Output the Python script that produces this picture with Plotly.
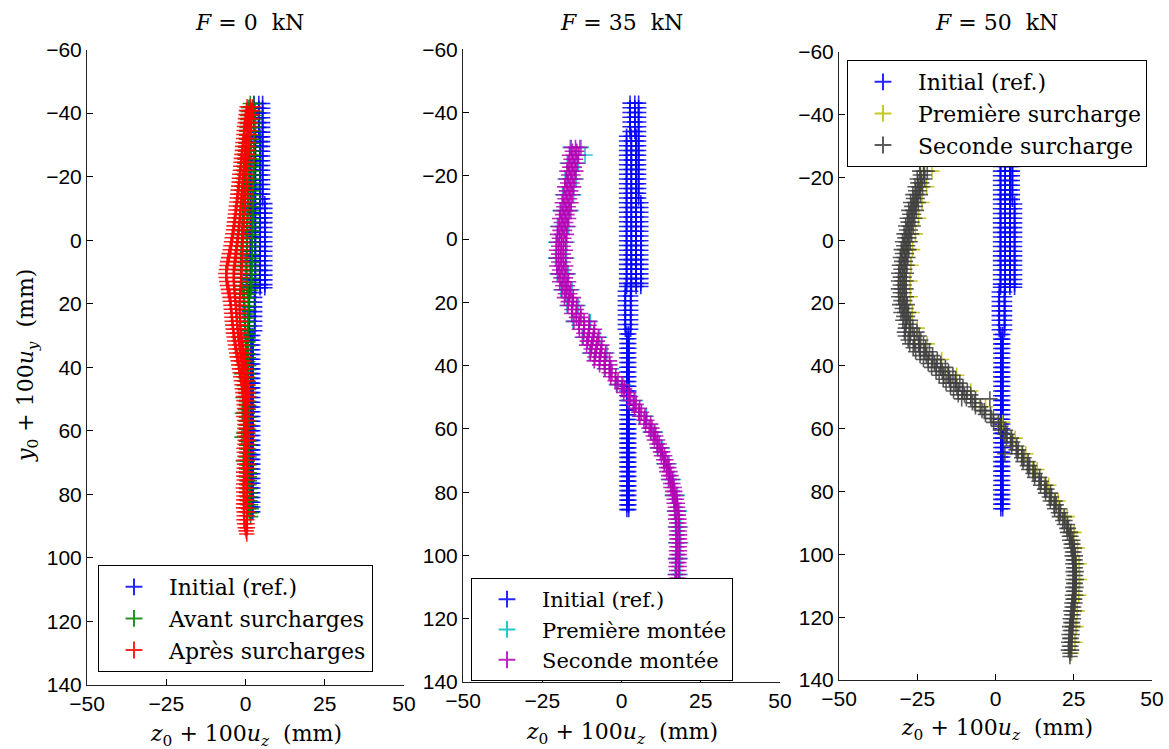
import plotly.graph_objects as go

# ---------------- data ----------------
# Initial (reference) measurement grid, shared by the three panels
init_top_y = [-43.0, -41.5, -40.0, -38.5, -37.0, -35.5, -34.0]
init_top_z = [2.7, 4.2, 5.4]
init_upa_y = [-32.5, -31.0, -29.5, -28.0, -26.5, -25.0, -23.5, -22.0, -20.5, -19.0,
              -17.5, -16.0, -14.5, -13.0]
init_upa_z = [1.6, 3.1, 4.6, 5.4]
init_upb_y = [-11.5, -10.0, -8.5, -7.0, -5.5, -4.0, -2.5, -1.0, 0.5, 2.0, 3.5, 5.0,
              6.5, 8.0, 9.5, 11.0, 12.5, 14.0, 15.0]
init_upb_z = [1.6, 3.1, 4.6, 6.1]
init_mid_y = [16.5, 18.0, 19.5, 21.0, 22.5, 24.0, 25.5, 27.0, 28.5]
init_mid_z = [1.2, 2.9]
init_low_y = [30.0, 31.5, 33.0, 34.5, 36.0, 37.5, 39.0, 40.5, 42.0, 43.5, 45.0, 46.5,
              48.0, 49.5, 51.0, 52.5, 54.0, 55.5, 57.0, 58.5, 60.0, 61.5, 63.0, 64.5,
              66.0, 67.5, 69.0, 70.5, 72.0, 73.5, 75.0, 76.5, 78.0, 79.5, 81.0, 82.5,
              84.0, 85.5]
init_low_z = [1.7, 2.3]

# Panel 1 : F = 0 kN  -- "Avant surcharges"
avant_y = [-43, -40.5, -38, -35.5, -33, -30.5, -28, -25.5, -23, -20.5, -18, -15.5, -13,
           -10.5, -8, -5.5, -3, -0.5, 2, 4.5, 7, 9.5, 12, 14.5, 17, 19.5, 22, 24.5, 27,
           29.5, 32, 34.5, 37, 39.5, 42, 44.5, 47, 49.5, 52, 54.5, 57, 59.5, 62, 64.5,
           67, 69.5, 72, 74.5, 77, 79.5, 82, 84.5, 87]
avant_z = [[1.5, 2.6], [0.8, 1.9, 3.0], [0.7, 1.8, 2.9], [0.5, 1.7, 2.8], [0.4, 1.6, 2.8],
           [0.2, 1.5, 2.7], [0.1, 1.4, 2.7], [-0.1, 1.3, 2.6], [-0.2, 1.2, 2.6],
           [-0.3, 1.1, 2.5], [-0.4, 1.0, 2.5], [-0.5, 0.9, 2.4], [-0.6, 0.8, 2.4],
           [-0.7, 0.8, 2.3], [-0.8, 0.7, 2.3], [-0.9, 0.6, 2.2], [-1.0, 0.5, 2.2],
           [-1.1, 0.5, 2.1], [-1.2, 0.4, 2.1], [-1.3, 0.4, 2.0], [-1.4, 0.3, 2.0],
           [-1.4, 0.3, 1.9], [-1.3, 0.3, 1.9], [-1.1, 0.4, 1.9], [-0.6, 0.9], [-0.4, 1.0],
           [-0.3, 1.0], [-0.3, 0.9], [-0.2, 0.9], [0.0, 0.8], [0.1, 0.8], [-0.9, 0.5],
           [0.2, 0.9], [0.1, 1.0], [-1.2, 0.6], [0.2, 0.9], [0.0, 1.0], [-0.8, 0.5],
           [0.3, 1.0], [-1.0, 0.6], [0.2, 1.1], [0.3, 1.0], [-1.1, 0.5], [0.3, 1.1],
           [0.4, 1.0], [-0.7, 0.6], [0.4, 1.1], [0.3, 1.2], [0.5, 1.1], [0.4, 1.3],
           [0.6, 1.4], [1.0, 1.8], [1.6]]
avant_y_b = [-41.75, -39.25, -36.75, -34.25, -31.75, -29.25, -26.75, -24.25, -21.75,
             -19.25, -16.75, -14.25, -11.75, -9.25, -6.75, -4.25, -1.75, 0.75, 3.25, 5.75,
             8.25, 10.75, 13.25, 15.75, 18.25, 20.75, 23.25, 25.75, 28.25, 30.75, 33.25,
             35.75, 38.25, 40.75, 43.25, 45.75, 48.25, 50.75, 53.25, 55.75, 58.25, 60.75,
             63.25, 65.75, 68.25, 70.75, 73.25, 75.75, 78.25, 80.75, 83.25, 85.75]
avant_z_b = [[1.0, 2.2], [0.7, 1.8, 2.9], [0.6, 1.7, 2.8], [0.4, 1.6, 2.8], [0.3, 1.5, 2.7],
             [0.1, 1.4, 2.7], [0.0, 1.3, 2.6], [-0.2, 1.2, 2.6], [-0.3, 1.1, 2.5],
             [-0.4, 1.0, 2.5], [-0.5, 0.9, 2.4], [-0.6, 0.8, 2.4], [-0.7, 0.8, 2.3],
             [-0.8, 0.7, 2.3], [-0.9, 0.6, 2.2], [-1.0, 0.5, 2.2], [-1.1, 0.5, 2.1],
             [-1.2, 0.4, 2.1], [-1.3, 0.4, 2.0], [-1.4, 0.3, 2.0], [-1.4, 0.3, 1.9],
             [-1.4, 0.3, 1.9], [-1.2, 0.4, 1.9], [-0.9, 0.6, 1.6], [-0.5, 0.9], [-0.3, 1.0],
             [-0.3, 0.9], [-0.2, 0.9], [-0.1, 0.8], [0.0, 0.8], [0.2, 0.9], [0.1, 0.9],
             [-0.6, 0.7], [0.2, 1.0], [0.1, 0.9], [-0.4, 0.8], [0.2, 1.0], [0.3, 1.0],
             [0.0, 0.9], [0.3, 1.1], [0.2, 1.0], [-0.5, 0.8], [0.3, 1.1], [0.4, 1.0],
             [0.2, 1.1], [0.4, 1.1], [0.4, 1.2], [0.5, 1.2], [0.5, 1.3], [0.6, 1.4],
             [0.8, 1.6], [1.2, 1.8]]

# Panel 1 : "Après surcharges"
apres_y = [-42, -39.5, -37, -34.5, -32, -29.5, -27, -24.5, -22, -19.5, -17, -14.5, -12,
           -9.5, -7, -4.5, -2, 0.5, 3, 5.5, 8, 10.5, 13, 15.5, 18, 20.5, 23, 25.5, 28,
           30.5, 33, 35.5, 38, 40.5, 43, 45.5, 48, 50.5, 53, 55.5, 58, 60.5, 63, 65.5,
           68, 70.5, 73, 75.5, 78, 80.5, 83, 85.5, 88, 90.5, 92.5]
apres_z = [[0.5, 1.5, 2.4], [0.2, 1.1, 2.0], [-0.1, 0.7, 1.6], [-0.4, 0.5, 1.3],
           [-0.6, 0.3, 1.1], [-0.9, 0.0, 0.9], [-1.1, -0.2, 0.6], [-1.4, -0.4, 0.5],
           [-1.6, -0.6, 0.4], [-1.9, -0.8, 0.3], [-2.1, -1.0, 0.1], [-2.4, -1.2, 0.0],
           [-2.7, -1.4, -0.2], [-3.0, -1.6, -0.3], [-3.3, -1.8, -0.5], [-3.6, -2.0, -0.6],
           [-4.0, -2.3, -0.8], [-4.4, -2.6, -0.9], [-4.8, -2.9, -1.0], [-5.3, -3.2, -1.1],
           [-5.8, -3.5, -1.2], [-6.2, -3.8, -1.3], [-5.9, -3.7, -1.5], [-5.4, -3.5, -1.6],
           [-4.9, -3.3, -1.8], [-4.6, -3.1, -1.9], [-4.4, -2.9, -1.8], [-4.2, -2.7, -1.7],
           [-3.9, -2.5, -1.6], [-3.6, -2.2, -1.3], [-3.2, -1.9, -1.0], [-2.8, -1.6, -0.6],
           [-2.3, -1.2, -0.3], [-1.9, -0.8, 0.1], [-1.5, -0.5, 0.4], [-1.1, -0.2, 0.7],
           [-0.8, 0.1, 0.9], [-0.5, 0.4], [-0.3, 0.6], [-0.6, 0.3], [-0.2, 0.6],
           [-0.4, 0.5], [-0.1, 0.7], [-0.5, 0.4], [-0.2, 0.5], [-0.3, 0.6], [-0.6, 0.3],
           [-0.4, 0.5], [-0.7, 0.2], [-0.5, 0.4], [-0.6, 0.3], [-0.4, 0.5], [-0.5, 0.4],
           [-0.1, 0.6], [0.4]]
apres_y_b = [-40.75, -38.25, -35.75, -33.25, -30.75, -28.25, -25.75, -23.25, -20.75,
             -18.25, -15.75, -13.25, -10.75, -8.25, -5.75, -3.25, -0.75, 1.75, 4.25, 6.75,
             9.25, 11.75, 14.25, 16.75, 19.25, 21.75, 24.25, 26.75, 29.25, 31.75, 34.25,
             36.75, 39.25, 41.75, 44.25, 46.75, 49.25, 51.75, 54.25, 56.75, 59.25, 61.75,
             64.25, 66.75, 69.25, 71.75, 74.25, 76.75, 79.25, 81.75, 84.25, 86.75, 89.25,
             91.5]
apres_z_b = [[0.3, 1.3, 2.2], [0.0, 0.9, 1.8], [-0.3, 0.6, 1.4], [-0.5, 0.4, 1.2],
             [-0.8, 0.1, 1.0], [-1.0, -0.1, 0.8], [-1.3, -0.3, 0.6], [-1.5, -0.5, 0.4],
             [-1.8, -0.7, 0.3], [-2.0, -0.9, 0.2], [-2.3, -1.1, 0.1], [-2.6, -1.3, -0.1],
             [-2.9, -1.5, -0.2], [-3.2, -1.7, -0.4], [-3.5, -1.9, -0.5], [-3.8, -2.2, -0.7],
             [-4.2, -2.4, -0.8], [-4.6, -2.7, -0.9], [-5.1, -3.0, -1.0], [-5.6, -3.3, -1.1],
             [-6.0, -3.6, -1.2], [-6.1, -3.8, -1.4], [-5.7, -3.6, -1.5], [-5.2, -3.4, -1.7],
             [-4.8, -3.2, -1.8], [-4.5, -3.0, -1.9], [-4.3, -2.8, -1.7], [-4.0, -2.6, -1.6],
             [-3.8, -2.4, -1.5], [-3.4, -2.0, -1.1], [-3.0, -1.7, -0.8], [-2.6, -1.4, -0.4],
             [-2.1, -1.0, -0.1], [-1.7, -0.6, 0.3], [-1.3, -0.3, 0.6], [-1.0, 0.0, 0.8],
             [-0.6, 0.2, 1.0], [-0.4, 0.5], [-0.5, 0.4], [-0.3, 0.6], [-0.2, 0.5],
             [-0.3, 0.6], [-0.2, 0.5], [-0.4, 0.4], [-0.5, 0.5], [-0.4, 0.4], [-0.5, 0.3],
             [-0.6, 0.4], [-0.6, 0.3], [-0.5, 0.4], [-0.6, 0.4], [-0.4, 0.5], [-0.3, 0.5],
             [0.2]]

# Panel 2 : F = 35 kN -- "Première montée"
mont1_y = [-29, -26.6, -24, -19, -14, -9, -4, 1, 6, 11, 16, 21, 26, 31, 36, 41, 46, 51,
           56, 61, 66, 71, 76, 81, 86, 91, 96, 101, 106, 111, 116, 121, 126]
mont1_z = [[-16.2, -12.7], [-11.5], [-17.1, -13.6], [-17.8, -14.3], [-18.6, -15.1],
           [-19.4, -15.9], [-20.2, -16.7], [-20.7, -17.2], [-20.8, -17.3], [-20.3, -16.8],
           [-19.1, -15.6], [-17.2, -13.7], [-15.3, -9.8], [-12.4, -6.9], [-10.1, -4.6],
           [-5.4, -3.2], [-1.6, 0.6], [2.2, 4.4], [5.6, 7.8], [9.1, 10.7], [11.3, 12.9],
           [13.4, 15.0], [14.8, 16.4], [16.0, 17.6], [16.7, 18.3], [17.0, 18.6],
           [17.1, 18.7], [17.0, 18.6], [16.9, 18.5], [16.7, 18.3], [16.5, 18.1],
           [16.3, 17.9], [16.1, 17.7]]

# Panel 2 : "Seconde montée"
mont2_y = [-29, -26.5, -24, -21.5, -19, -16.5, -14, -11.5, -9, -6.5, -4, -1.5, 1, 3.5, 6,
           8.5, 11, 13.5, 16, 18.5, 21, 23.5, 26, 28.5, 31, 33.5, 36, 38.5, 41, 43.5, 46,
           48.5, 51, 53.5, 56, 58.5, 61, 63.5, 66, 68.5, 71, 73.5, 76, 78.5, 81, 83.5, 86,
           88.5, 91, 93.5, 96, 98.5, 101, 103.5, 106, 108.5, 111, 113.5, 116, 118.5, 121,
           123.5, 126, 128.5]
mont2_z = [[-15.9, -14.5, -13.1], [-16.4, -15.0, -13.6], [-16.8, -15.4, -14.0],
           [-17.2, -15.8, -14.4], [-17.5, -16.1, -14.7], [-17.9, -16.5, -15.1],
           [-18.3, -16.9, -15.5], [-18.7, -17.3, -15.9], [-19.1, -17.7, -16.3],
           [-19.5, -18.1, -16.7], [-19.9, -18.5, -17.1], [-20.2, -18.8, -17.4],
           [-20.4, -19.0, -17.6], [-20.5, -19.1, -17.7], [-20.5, -19.1, -17.7],
           [-20.4, -19.0, -17.6], [-20.0, -18.6, -17.2], [-19.5, -18.1, -16.7],
           [-18.8, -17.4, -16.0], [-18.0, -16.6, -15.2], [-16.9, -15.5, -14.1],
           [-15.7, -14.3, -12.9], [-15.0, -13.4, -11.8, -10.2], [-13.3, -11.7, -10.1, -8.5],
           [-12.1, -10.5, -8.9, -7.3], [-11.0, -9.4, -7.8, -6.2], [-9.8, -8.2, -6.6, -5.0],
           [-8.6, -7.0, -5.4, -3.8], [-5.2, -3.6], [-3.4, -1.8], [-1.4, 0.2], [0.7, 2.3],
           [2.4, 4.0], [4.1, 5.7], [5.8, 7.4], [7.6, 9.2], [9.3, 10.3], [10.4, 11.4],
           [11.5, 12.5], [12.6, 13.6], [13.6, 14.6], [14.3, 15.3], [15.0, 16.0],
           [15.6, 16.6], [16.2, 17.2], [16.6, 17.6], [16.9, 17.9], [17.1, 18.1],
           [17.2, 18.2], [17.3, 18.3], [17.3, 18.3], [17.3, 18.3], [17.2, 18.2],
           [17.2, 18.2], [17.1, 18.1], [17.0, 18.0], [16.9, 17.9], [16.8, 17.8],
           [16.7, 17.7], [16.6, 17.6], [16.5, 17.5], [16.4, 17.4], [16.3, 17.3],
           [16.3, 17.3]]
mont2_y_b = [-27.75, -25.25, -22.75, -20.25, -17.75, -15.25, -12.75, -10.25, -7.75, -5.25,
             -2.75, -0.25, 2.25, 4.75, 7.25, 9.75, 12.25, 14.75, 17.25, 19.75, 22.25,
             24.75, 27.25, 29.75, 32.25, 34.75, 37.25, 39.75, 42.25, 44.75, 47.25, 49.75,
             52.25, 54.75, 57.25, 59.75, 62.25, 64.75, 67.25, 69.75, 72.25, 74.75, 77.25,
             79.75, 82.25, 84.75, 87.25, 89.75, 92.25, 94.75, 97.25, 99.75, 102.25, 104.75,
             107.25, 109.75, 112.25, 114.75, 117.25, 119.75, 122.25, 124.75, 127.25]
mont2_z_b = [[-15.5, -14.1], [-15.9, -14.5], [-16.3, -14.9], [-16.7, -15.3], [-17.0, -15.6],
             [-17.4, -16.0], [-17.8, -16.4], [-18.2, -16.8], [-18.6, -17.2], [-19.0, -17.6],
             [-19.4, -18.0], [-19.6, -18.2], [-19.8, -18.4], [-19.8, -18.4], [-19.8, -18.4],
             [-19.5, -18.1], [-19.1, -17.7], [-18.5, -17.1], [-17.7, -16.3], [-16.8, -15.4],
             [-15.6, -14.2], [-14.2, -12.8], [-13.4, -11.8, -10.2], [-11.9, -10.3, -8.7],
             [-10.8, -9.2, -7.6], [-9.6, -8.0, -6.4], [-8.4, -6.8, -5.2], [-6.9, -5.3, -3.7],
             [-3.9, -3.0], [-2.0, -1.1], [0.1, 1.0], [2.0, 2.9], [3.7, 4.6], [5.4, 6.3],
             [7.1, 8.0], [8.7, 9.6], [10.0, 10.8], [11.2, 11.9], [12.3, 13.0], [13.3, 14.0],
             [14.2, 14.9], [14.9, 15.6], [15.5, 16.2], [16.1, 16.8], [16.6, 17.3],
             [17.0, 17.7], [17.2, 17.9], [17.4, 18.1], [17.5, 18.2], [17.5, 18.2],
             [17.5, 18.2], [17.5, 18.2], [17.4, 18.1], [17.4, 18.1], [17.3, 18.0],
             [17.2, 17.9], [17.1, 17.8], [17.0, 17.7], [16.9, 17.6], [16.8, 17.5],
             [16.7, 17.4], [16.6, 17.3], [16.5, 17.2]]

# Panel 3 : F = 50 kN -- "Première surcharge"
surc1_y = [-22, -17, -12, -7, -2, 3, 8, 13, 18, 23, 28, 33, 38, 43, 48, 53, 58, 63, 68,
           73, 78, 83, 88, 93, 98, 103, 108, 113, 118, 123, 128, 131.5]
surc1_z = [[-22.6, -20.3], [-24.0, -22.0], [-25.4, -23.5], [-26.5, -24.6], [-27.5, -25.6],
           [-28.4, -26.5], [-29.0, -27.0], [-29.3, -27.3], [-29.2, -27.2], [-28.5, -26.6],
           [-27.1, -25.0], [-24.7, -21.8], [-20.3, -17.2], [-15.3, -12.4], [-10.7, -7.9],
           [-5.1, -3.2], [0.7, 2.3], [4.8, 6.3], [8.3, 9.7], [11.9, 13.3], [15.7, 17.0],
           [18.8, 20.0], [21.7, 22.9], [24.0, 25.1], [25.2, 26.2], [25.7, 26.7],
           [25.8, 26.8], [25.6, 26.6], [25.1, 26.1], [24.7, 25.7], [24.4, 25.4], [24.3]]

# Panel 3 : "Seconde surcharge"
surc2_y = [-22, -19.5, -17, -14.5, -12, -9.5, -7, -4.5, -2, 0.5, 3, 5.5, 8, 10.5, 13,
           15.5, 18, 20.5, 23, 25.5, 28, 30.5, 33, 35.5, 38, 40.5, 43, 45.5, 48, 50.5, 53,
           55.5, 58, 60.5, 63, 65.5, 68, 70.5, 73, 75.5, 78, 80.5, 83, 85.5, 88, 90.5, 93,
           95.5, 98, 100.5, 103, 105.5, 108, 110.5, 113, 115.5, 118, 120.5, 123, 125.5,
           128, 130.5, 132.5]
surc2_z = [[-24.2, -23.0, -21.8], [-25.0, -23.8, -22.6], [-25.7, -24.5, -23.3],
           [-26.4, -25.2, -24.0], [-27.1, -25.9, -24.7], [-27.7, -26.5, -25.3],
           [-28.2, -27.0, -25.8], [-28.7, -27.5, -26.3], [-29.2, -28.0, -26.8],
           [-29.7, -28.5, -27.3], [-30.1, -28.9, -27.7], [-30.4, -29.2, -28.0],
           [-30.7, -29.5, -28.3], [-30.9, -29.7, -28.5], [-31.0, -29.8, -28.6],
           [-31.0, -29.8, -28.6], [-30.9, -29.7, -28.5], [-30.6, -29.4, -28.2],
           [-30.2, -29.0, -27.8], [-29.6, -28.4, -27.2], [-28.8, -27.6, -26.4],
           [-28.8, -27.3, -25.9, -24.4], [-27.4, -25.9, -24.5, -23.0],
           [-25.5, -24.0, -22.6, -21.1], [-23.0, -21.5, -20.1, -18.6],
           [-20.4, -18.9, -17.5, -16.0], [-18.0, -16.5, -15.1, -13.6],
           [-15.8, -14.3, -12.9, -11.4], [-13.4, -11.9, -10.5, -9.0],
           [-10.8, -9.3, -7.9, -6.4, -1.8], [-6.4, -4.8], [-3.2, -1.6], [-0.6, 1.0],
           [1.6, 3.2], [3.5, 5.1], [5.2, 6.8], [7.0, 8.6, 3.0], [8.8, 10.4], [10.6, 12.2],
           [12.5, 14.1], [14.4, 16.0], [16.0, 17.6], [17.5, 19.1], [18.9, 20.5],
           [20.4, 22.0], [22.0, 23.0], [23.0, 24.0], [23.7, 24.7], [24.2, 25.2],
           [24.5, 25.5], [24.7, 25.7], [24.8, 25.8], [24.8, 25.8], [24.7, 25.7],
           [24.6, 25.6], [24.4, 25.4], [24.1, 25.1], [23.9, 24.9], [23.7, 24.7],
           [23.5, 24.5], [23.4, 24.4], [23.3, 24.3], [23.8]]
surc2_y_b = [-20.75, -18.25, -15.75, -13.25, -10.75, -8.25, -5.75, -3.25, -0.75, 1.75,
             4.25, 6.75, 9.25, 11.75, 14.25, 16.75, 19.25, 21.75, 24.25, 26.75, 29.25,
             31.75, 34.25, 36.75, 39.25, 41.75, 44.25, 46.75, 49.25, 51.75, 54.25, 56.75,
             59.25, 61.75, 64.25, 66.75, 69.25, 71.75, 74.25, 76.75, 79.25, 81.75, 84.25,
             86.75, 89.25, 91.75, 94.25, 96.75, 99.25, 101.75, 104.25, 106.75, 109.25,
             111.75, 114.25, 116.75, 119.25, 121.75, 124.25, 126.75, 129.25, 131.5]
surc2_z_b = [[-24.0, -22.8], [-24.8, -23.6], [-25.5, -24.3], [-26.2, -25.0], [-26.8, -25.6],
             [-27.4, -26.2], [-27.9, -26.7], [-28.4, -27.2], [-28.9, -27.7], [-29.3, -28.1],
             [-29.7, -28.5], [-30.0, -28.8], [-30.2, -29.0], [-30.4, -29.2], [-30.4, -29.2],
             [-30.4, -29.2], [-30.2, -29.0], [-29.8, -28.6], [-29.3, -28.1], [-28.6, -27.4],
             [-29.1, -27.1, -25.1], [-27.9, -25.9, -23.9], [-26.3, -24.3, -22.3],
             [-24.1, -22.1, -20.1], [-21.5, -19.5, -17.5], [-19.0, -17.0, -15.0],
             [-16.7, -14.7, -12.7], [-14.4, -12.4, -10.4], [-11.9, -9.9, -7.9],
             [-7.4, -6.7], [-4.3, -3.6], [-1.4, -0.7], [1.0, 1.7], [3.0, 3.7], [4.8, 5.5],
             [6.6, 7.3], [8.4, 9.1], [10.2, 10.9], [12.0, 12.7], [13.9, 14.6], [15.7, 16.4],
             [17.2, 17.9], [18.7, 19.4], [20.1, 20.8], [21.5, 22.2], [22.8, 23.3],
             [23.6, 24.1], [24.2, 24.7], [24.6, 25.1], [24.9, 25.4], [25.0, 25.5],
             [25.1, 25.6], [25.0, 25.5], [24.9, 25.4], [24.8, 25.3], [24.5, 25.0],
             [24.3, 24.8], [24.1, 24.6], [23.9, 24.4], [23.7, 24.2], [23.6, 24.1], [23.8]]

panel_titles = ["<i>F</i> = 0  kN", "<i>F</i> = 35  kN", "<i>F</i> = 50  kN"]
legend_labels = [["Initial (ref.)", "Avant surcharges", "Après surcharges"],
                 ["Initial (ref.)", "Première montée", "Seconde montée"],
                 ["Initial (ref.)", "Première surcharge", "Seconde surcharge"]]
x_ticks = [-50, -25, 0, 25, 50]
y_ticks = [-60, -40, -20, 0, 20, 40, 60, 80, 100, 120, 140]


# ---------------- helpers ----------------
def grid(ys, zs):
    X, Y = [], []
    for y in ys:
        for z in zs:
            X.append(z)
            Y.append(y)
    return X, Y


def rows(*pairs):
    X, Y = [], []
    for ys, zrows in pairs:
        for y, zr in zip(ys, zrows):
            for z in zr:
                X.append(z)
                Y.append(y)
    return X, Y


init_x, init_y = [], []
for ys, zs in [(init_top_y, init_top_z), (init_upa_y, init_upa_z), (init_upb_y, init_upb_z),
               (init_mid_y, init_mid_z), (init_low_y, init_low_z)]:
    gx, gy = grid(ys, zs)
    init_x += gx
    init_y += gy

W, H = 1169, 749
# panel pixel boxes: left, right, top, bottom
boxes = [(87, 404, 49.5, 685), (463, 780, 49.3, 682), (839, 1152, 51.7, 680)]

BLUE, GREEN, RED = "#0000FF", "#008000", "#FF0000"
CYAN, MAGENTA, YELLOW, GRAY = "#00BFBF", "#B400B4", "#BFBF00", "#404040"

series = [
    [(init_x, init_y, BLUE),
     (*rows((avant_y, avant_z), (avant_y_b, avant_z_b)), GREEN),
     (*rows((apres_y, apres_z), (apres_y_b, apres_z_b)), RED)],
    [(init_x, init_y, BLUE),
     (*rows((mont1_y, mont1_z)), CYAN),
     (*rows((mont2_y, mont2_z), (mont2_y_b, mont2_z_b)), MAGENTA)],
    [(init_x, init_y, BLUE),
     (*rows((surc1_y, surc1_z)), YELLOW),
     (*rows((surc2_y, surc2_z), (surc2_y_b, surc2_z_b)), GRAY)],
]

fig = go.Figure()
legend_ids = ["legend", "legend2", "legend3"]
for p in range(3):
    ax = "" if p == 0 else str(p + 1)
    for s, (xs, ys, col) in enumerate(series[p]):
        fig.add_trace(go.Scatter(
            x=xs, y=ys, mode="markers", name=legend_labels[p][s],
            xaxis="x" + ax, yaxis="y" + ax, legend=legend_ids[p],
            legendgroup=f"g{p}{s}",
            marker=dict(symbol="cross-thin", size=11, opacity=0.85,
                        line=dict(color=col, width=1.6), color=col),
            hoverinfo="skip",
        ))

TICKFONT = dict(family="Liberation Sans, Arial, sans-serif", size=21, color="black")
SERIF = "DejaVu Serif, serif"

layout = dict(width=W, height=H, margin=dict(l=0, r=0, t=0, b=0, autoexpand=False),
              plot_bgcolor="white", paper_bgcolor="white", showlegend=True)
for p, (l, r, t, b) in enumerate(boxes):
    ax = "" if p == 0 else str(p + 1)
    layout["xaxis" + ax] = dict(
        domain=[l / W, r / W], range=[-50, 50], tickvals=x_ticks, ticks="inside",
        ticklen=6, tickcolor="black", showline=True, linecolor="#222", linewidth=1,
        mirror=False, showgrid=False, zeroline=False, tickfont=TICKFONT,
        anchor="y" + ax, fixedrange=True, automargin=False)
    layout["yaxis" + ax] = dict(
        domain=[1 - b / H, 1 - t / H], range=[140, -60], tickvals=y_ticks, ticks="inside",
        ticklen=6, tickcolor="black", showline=True, linecolor="#222", linewidth=1,
        mirror=False, showgrid=False, zeroline=False, tickfont=TICKFONT,
        anchor="x" + ax, fixedrange=True, automargin=False)

leg_pos = [(98, 565), (471, 578), (847, 60)]
leg_font = [22, 21, 22]
for p, (lx, ly) in enumerate(leg_pos):
    layout[legend_ids[p]] = dict(
        x=lx / W, y=1 - ly / H, xanchor="left", yanchor="top",
        bgcolor="white", bordercolor="black", borderwidth=1,
        font=dict(family=SERIF, size=leg_font[p], color="black"),
        itemwidth=60, traceorder="grouped", tracegroupgap=0, itemsizing="constant")

fig.update_layout(**layout)

title_x = [249, 621, 996]
xlab_x = [246, 622, 997]
xlab_y = [735, 733, 729]
for p in range(3):
    fig.add_annotation(text=panel_titles[p], x=title_x[p] / W, y=1 - 22 / H,
                       xref="paper", yref="paper", showarrow=False,
                       font=dict(family=SERIF, size=22, color="black"),
                       xanchor="center", yanchor="middle")
    fig.add_annotation(text="<i>z</i><sub>0</sub> + 100<i>u<sub>z</sub></i>  (mm)",
                       x=xlab_x[p] / W, y=1 - xlab_y[p] / H,
                       xref="paper", yref="paper", showarrow=False,
                       font=dict(family=SERIF, size=22, color="black"),
                       xanchor="center", yanchor="middle")
fig.add_annotation(text="<i>y</i><sub>0</sub> + 100<i>u<sub>y</sub></i>  (mm)",
                   x=27 / W, y=1 - 366 / H, xref="paper", yref="paper", showarrow=False,
                   textangle=-90, font=dict(family=SERIF, size=22, color="black"),
                   xanchor="center", yanchor="middle")

fig.write_html("out.html",
               config={"displayModeBar": False, "staticPlot": True},
               post_script="document.body.style.margin='0px';"
                           "document.body.style.overflow='hidden';")
